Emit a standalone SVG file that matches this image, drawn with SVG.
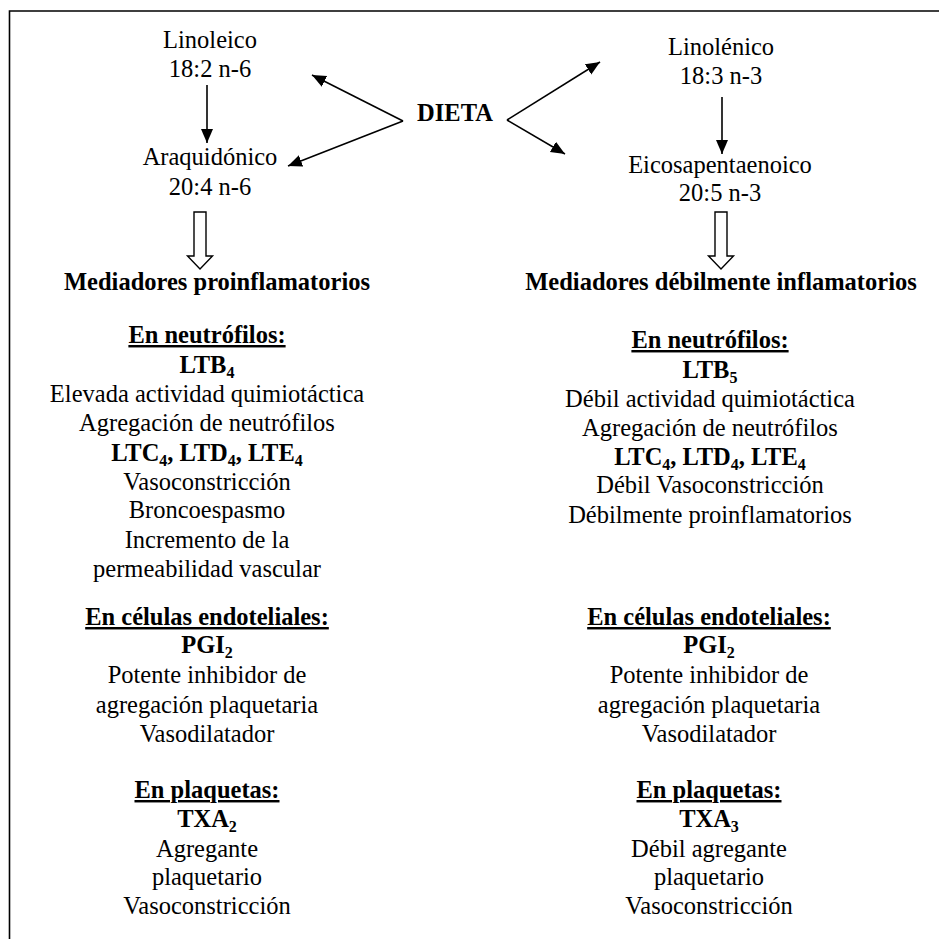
<svg xmlns="http://www.w3.org/2000/svg" width="939" height="939" viewBox="0 0 939 939">
<style>
text{font-size:24.5px;fill:#000;text-anchor:middle}
.b{font-weight:bold}
.u{text-decoration:underline}
.s{font-size:16px}
.ln{stroke:#000;stroke-width:1.6;fill:none}
.hol{stroke:#000;stroke-width:1.4;fill:#fff}
</style>
<defs>
<marker id="ah" markerUnits="userSpaceOnUse" markerWidth="16" markerHeight="14" refX="14" refY="6" orient="auto">
<path d="M0,0 L14,6 L0,12 Z" fill="#000"/>
</marker>
</defs>
<rect width="939" height="939" fill="#fff"/>
<g id="frame">
<path d="M9.5,939 L9.5,11 L939,11" class="ln" stroke-width="2"/>
</g>
<g id="connectors">
<line x1="207" y1="85" x2="207" y2="143" class="ln" marker-end="url(#ah)"/>
<line x1="722" y1="97" x2="722" y2="154" class="ln" marker-end="url(#ah)"/>
<line x1="403" y1="121" x2="312" y2="75" class="ln" marker-end="url(#ah)"/>
<line x1="403" y1="121" x2="288" y2="166" class="ln" marker-end="url(#ah)"/>
<line x1="507" y1="120" x2="600" y2="62" class="ln" marker-end="url(#ah)"/>
<line x1="507" y1="120" x2="565" y2="154" class="ln" marker-end="url(#ah)"/>
<path d="M194,212 L206,212 L206,256 L212.5,256 L200,269 L187.5,256 L194,256 Z" class="hol"/>
<path d="M715,212 L727,212 L727,256 L733.5,256 L721,269 L708.5,256 L715,256 Z" class="hol"/>
</g>
<g font-family="'Liberation Serif', 'Times New Roman', Times, Tinos, 'DejaVu Serif', serif">
<g id="dieta"><text x="455" y="121" class="b">DIETA</text></g>
<g id="linoleico"><text x="210" y="48">Linoleico</text><text x="210" y="77">18:2 n-6</text></g>
<g id="araquidonico"><text x="210" y="165">Araquidónico</text><text x="210" y="195">20:4 n-6</text></g>
<g id="linolenico"><text x="721" y="55">Linolénico</text><text x="721" y="84">18:3 n-3</text></g>
<g id="eicosapentaenoico"><text x="720" y="173">Eicosapentaenoico</text><text x="720" y="201">20:5 n-3</text></g>
<g id="mediadores-pro"><text x="217" y="290" class="b">Mediadores proinflamatorios</text></g>
<g id="mediadores-deb"><text x="721" y="290" class="b">Mediadores débilmente inflamatorios</text></g>
<g id="neutrofilos-izq">
<text x="207" y="343" class="b u">En neutrófilos:</text>
<text x="207" y="373" class="b">LTB<tspan class="s" baseline-shift="-5">4</tspan></text>
<text x="207" y="402">Elevada actividad quimiotáctica</text>
<text x="207" y="431">Agregación de neutrófilos</text>
<text x="207" y="461" class="b">LTC<tspan class="s" baseline-shift="-5">4</tspan>, LTD<tspan class="s" baseline-shift="-5">4</tspan>, LTE<tspan class="s" baseline-shift="-5">4</tspan></text>
<text x="207" y="490">Vasoconstricción</text>
<text x="207" y="518">Broncoespasmo</text>
<text x="207" y="548">Incremento de la</text>
<text x="207" y="577">permeabilidad vascular</text>
</g>
<g id="neutrofilos-der">
<text x="710" y="348" class="b u">En neutrófilos:</text>
<text x="710" y="378" class="b">LTB<tspan class="s" baseline-shift="-5">5</tspan></text>
<text x="710" y="407">Débil actividad quimiotáctica</text>
<text x="710" y="436">Agregación de neutrófilos</text>
<text x="710" y="465" class="b">LTC<tspan class="s" baseline-shift="-5">4</tspan>, LTD<tspan class="s" baseline-shift="-5">4</tspan>, LTE<tspan class="s" baseline-shift="-5">4</tspan></text>
<text x="710" y="493">Débil Vasoconstricción</text>
<text x="710" y="523">Débilmente proinflamatorios</text>
</g>
<g id="endoteliales-izq">
<text x="207" y="625" class="b u">En células endoteliales:</text>
<text x="207" y="653" class="b">PGI<tspan class="s" baseline-shift="-5">2</tspan></text>
<text x="207" y="683">Potente inhibidor de</text>
<text x="207" y="713">agregación plaquetaria</text>
<text x="207" y="742">Vasodilatador</text>
</g>
<g id="endoteliales-der">
<text x="709" y="625" class="b u">En células endoteliales:</text>
<text x="709" y="653" class="b">PGI<tspan class="s" baseline-shift="-5">2</tspan></text>
<text x="709" y="683">Potente inhibidor de</text>
<text x="709" y="713">agregación plaquetaria</text>
<text x="709" y="742">Vasodilatador</text>
</g>
<g id="plaquetas-izq">
<text x="207" y="798" class="b u">En plaquetas:</text>
<text x="207" y="827" class="b">TXA<tspan class="s" baseline-shift="-5">2</tspan></text>
<text x="207" y="857">Agregante</text>
<text x="207" y="885">plaquetario</text>
<text x="207" y="914">Vasoconstricción</text>
</g>
<g id="plaquetas-der">
<text x="709" y="798" class="b u">En plaquetas:</text>
<text x="709" y="827" class="b">TXA<tspan class="s" baseline-shift="-5">3</tspan></text>
<text x="709" y="857">Débil agregante</text>
<text x="709" y="885">plaquetario</text>
<text x="709" y="914">Vasoconstricción</text>
</g>
</g>
</svg>
